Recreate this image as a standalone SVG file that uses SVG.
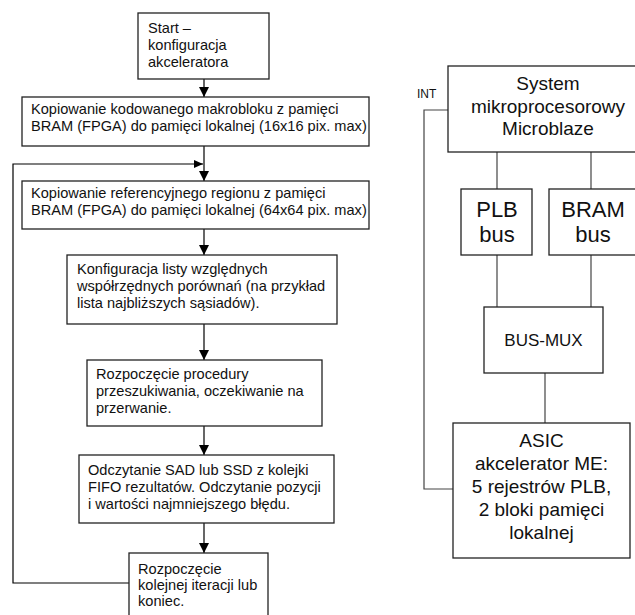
<svg xmlns="http://www.w3.org/2000/svg" width="635" height="615" viewBox="0 0 635 615">
<defs>
<marker id="ah" markerWidth="10" markerHeight="10" refX="10" refY="5" orient="auto" markerUnits="userSpaceOnUse">
<path d="M0,0 L10,5 L0,10 Z" fill="#000"/>
</marker>
<marker id="ahs" markerWidth="9" markerHeight="8" refX="9" refY="4" orient="auto" markerUnits="userSpaceOnUse">
<path d="M0,0 L9,4 L0,8 Z" fill="#000"/>
</marker>
</defs>
<style>
rect{fill:#fff;stroke:#222;stroke-width:1.3}
text{font-family:"Liberation Sans",Arial,sans-serif;fill:#111}
.l{font-size:14.6px}
.c{text-anchor:middle}
.s{font-size:19px}
.b{font-size:22px}
.m{font-size:17px}
.i{font-size:12px}
.cn line,.cn polyline{stroke:#000;stroke-width:1.2;fill:none}
.cn .g{stroke:#444}
</style>
<rect x="0" y="0" width="635" height="615" style="fill:#fff;stroke:none"/>
<g class="cn">
<line x1="204" y1="79" x2="204" y2="97" marker-end="url(#ah)"/>
<line x1="204" y1="146" x2="204" y2="181" marker-end="url(#ah)"/>
<polyline points="129,583 13,583 13,164 203,164" marker-end="url(#ahs)"/>
<line x1="204" y1="229" x2="204" y2="255" marker-end="url(#ah)"/>
<line x1="204" y1="324" x2="204" y2="360" marker-end="url(#ah)"/>
<line x1="204" y1="426" x2="204" y2="455" marker-end="url(#ah)"/>
<line x1="204" y1="523" x2="204" y2="553" marker-end="url(#ah)"/>
<line class="g" x1="497" y1="152" x2="497" y2="189"/>
<line class="g" x1="591" y1="152" x2="591" y2="189"/>
<line class="g" x1="497" y1="255" x2="497" y2="307"/>
<line class="g" x1="591" y1="255" x2="591" y2="307"/>
<line class="g" x1="545" y1="373" x2="545" y2="423"/>
<polyline class="g" points="448,110 424,110 424,489 453,489"/>
</g>
<g id="start">
<rect x="138" y="13" width="131" height="66"/>
<text class="l" x="148" y="33">Start –</text>
<text class="l" x="148" y="50">konfiguracja</text>
<text class="l" x="148" y="67">akceleratora</text>
</g>
<g id="kopiowanie1">
<rect x="22" y="97" width="347" height="49"/>
<text class="l" x="31" y="114">Kopiowanie kodowanego makrobloku z pamięci</text>
<text class="l" x="31" y="131">BRAM (FPGA) do pamięci lokalnej (16x16 pix. max)</text>
</g>
<g id="kopiowanie2">
<rect x="22" y="181" width="347" height="48"/>
<text class="l" x="31" y="198">Kopiowanie referencyjnego regionu z pamięci</text>
<text class="l" x="31" y="215">BRAM (FPGA) do pamięci lokalnej (64x64 pix. max)</text>
</g>
<g id="konfiguracja">
<rect x="67" y="255" width="270" height="69"/>
<text class="l" x="77" y="274">Konfiguracja listy względnych</text>
<text class="l" x="77" y="291">współrzędnych porównań (na przykład</text>
<text class="l" x="77" y="308">lista najbliższych sąsiadów).</text>
</g>
<g id="rozpoczecie">
<rect x="87" y="360" width="235" height="66"/>
<text class="l" x="96" y="379">Rozpoczęcie procedury</text>
<text class="l" x="96" y="396">przeszukiwania, oczekiwanie na</text>
<text class="l" x="96" y="413">przerwanie.</text>
</g>
<g id="odczytanie">
<rect x="79" y="455" width="255" height="68"/>
<text class="l" x="88" y="475">Odczytanie SAD lub SSD z kolejki</text>
<text class="l" x="88" y="492">FIFO rezultatów. Odczytanie pozycji</text>
<text class="l" x="88" y="509">i wartości najmniejszego błędu.</text>
</g>
<g id="iteracja">
<rect x="129" y="553" width="139" height="70"/>
<text class="l" x="138" y="574">Rozpoczęcie</text>
<text class="l" x="138" y="590">kolejnej iteracji lub</text>
<text class="l" x="138" y="606">koniec.</text>
</g>
<g id="int-label">
<text class="i" x="417" y="98">INT</text>
</g>
<g id="system">
<rect x="448" y="66" width="200" height="86"/>
<text class="s c" x="548" y="90">System</text>
<text class="s c" x="548" y="112.5">mikroprocesorowy</text>
<text class="s c" x="548" y="135">Microblaze</text>
</g>
<g id="plb">
<rect x="461" y="189" width="71" height="66"/>
<text class="b c" x="497" y="217">PLB</text>
<text class="b c" x="497" y="242">bus</text>
</g>
<g id="bram">
<rect x="549" y="189" width="88" height="66"/>
<text class="b c" x="593" y="217">BRAM</text>
<text class="b c" x="593" y="242">bus</text>
</g>
<g id="busmux">
<rect x="484" y="307" width="119" height="66"/>
<text class="m c" x="543.5" y="346">BUS-MUX</text>
</g>
<g id="asic">
<rect x="453" y="423" width="177" height="135"/>
<text class="s c" x="541.5" y="447">ASIC</text>
<text class="s c" x="541.5" y="470">akcelerator ME:</text>
<text class="s c" x="541.5" y="493">5 rejestrów PLB,</text>
<text class="s c" x="541.5" y="516">2 bloki pamięci</text>
<text class="s c" x="541.5" y="539">lokalnej</text>
</g>
</svg>
